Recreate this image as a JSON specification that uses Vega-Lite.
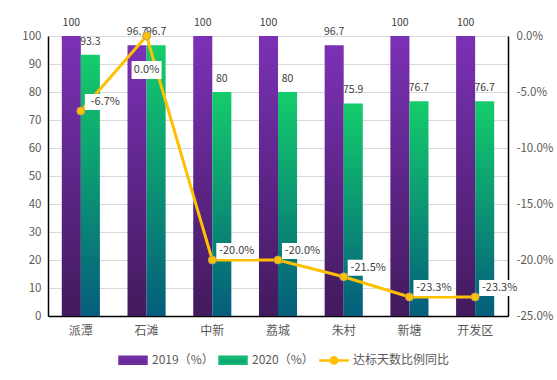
{
  "$schema": "https://vega.github.io/schema/vega-lite/v6.json",
  "width": 460,
  "height": 280,
  "autosize": {"type": "none"},
  "padding": {"left": 48, "top": 36, "right": 49, "bottom": 64},
  "background": "white",
  "config": {
    "font": "Noto Sans CJK SC",
    "view": {"stroke": null},
    "axis": {"labelFont": "Noto Sans CJK SC", "labelColor": "#595959", "labelFontSize": 11.5, "labelOverlap": false, "ticks": false, "tickSize": 0, "domainColor": "#000000", "title": null}
  },
  "datasets": {
    "bars": [
      {"cat": "派潭", "series": "2019（%）", "value": 100},
      {"cat": "派潭", "series": "2020（%）", "value": 93.3},
      {"cat": "石滩", "series": "2019（%）", "value": 96.7},
      {"cat": "石滩", "series": "2020（%）", "value": 96.7},
      {"cat": "中新", "series": "2019（%）", "value": 100},
      {"cat": "中新", "series": "2020（%）", "value": 80},
      {"cat": "荔城", "series": "2019（%）", "value": 100},
      {"cat": "荔城", "series": "2020（%）", "value": 80},
      {"cat": "朱村", "series": "2019（%）", "value": 96.7},
      {"cat": "朱村", "series": "2020（%）", "value": 75.9},
      {"cat": "新塘", "series": "2019（%）", "value": 100},
      {"cat": "新塘", "series": "2020（%）", "value": 76.7},
      {"cat": "开发区", "series": "2019（%）", "value": 100},
      {"cat": "开发区", "series": "2020（%）", "value": 76.7}
    ],
    "line": [
      {"cat": "派潭", "series": "达标天数比例同比", "yoy": -6.7, "label": "-6.7%"},
      {"cat": "石滩", "series": "达标天数比例同比", "yoy": 0.0, "label": "0.0%"},
      {"cat": "中新", "series": "达标天数比例同比", "yoy": -20.0, "label": "-20.0%"},
      {"cat": "荔城", "series": "达标天数比例同比", "yoy": -20.0, "label": "-20.0%"},
      {"cat": "朱村", "series": "达标天数比例同比", "yoy": -21.5, "label": "-21.5%"},
      {"cat": "新塘", "series": "达标天数比例同比", "yoy": -23.3, "label": "-23.3%"},
      {"cat": "开发区", "series": "达标天数比例同比", "yoy": -23.3, "label": "-23.3%"}
    ]
  },
  "encoding": {
    "x": {
      "field": "cat", "type": "nominal", "sort": null,
      "scale": {"paddingInner": 0.42, "paddingOuter": 0.21},
      "axis": {"labelAngle": 0, "labelPadding": 9, "labelFontSize": 12, "domainWidth": 1.5}
    }
  },
  "layer": [
    {
      "data": {"name": "bars"},
      "encoding": {
        "xOffset": {"field": "series", "type": "nominal", "sort": null, "scale": {"paddingInner": 0}},
        "y": {"field": "value", "type": "quantitative", "scale": {"domain": [0, 100], "nice": false},
          "axis": {"values": [0,10,20,30,40,50,60,70,80,90,100], "tickCount": 11, "grid": true, "gridColor": "#D9D9D9", "labelPadding": 7, "domainWidth": 1.5}}
      },
      "layer": [
        {
          "mark": {"type": "bar"},
          "encoding": {
            "color": {
              "condition": {"test": "datum.series === '2019（%）'", "value": {"gradient": "linear", "x1": 0, "y1": 0, "x2": 0, "y2": 1, "stops": [{"offset": 0, "color": "#7B31B6"}, {"offset": 1, "color": "#421A5C"}]}},
              "value": {"gradient": "linear", "x1": 0, "y1": 0, "x2": 0, "y2": 1, "stops": [{"offset": 0, "color": "#14CD6B"}, {"offset": 1, "color": "#045D7C"}]}
            }
          }
        },
        {
          "mark": {"type": "text", "dy": -10, "baseline": "alphabetic", "fontSize": 10.5, "color": "#404040"},
          "encoding": {
            "text": {"field": "value", "type": "quantitative"}
          }
        }
      ]
    },
    {
      "data": {"name": "line"},
      "encoding": {
        "y": {"field": "yoy", "type": "quantitative", "scale": {"domain": [-25, 0], "nice": false},
          "axis": {"orient": "right", "values": [0, -5, -10, -15, -20, -25], "grid": false, "labelPadding": 8, "domainWidth": 1.5,
            "labelExpr": "(datum.value < 0 ? '-' : '') + format(abs(datum.value), '.1f') + '%'"}}
      },
      "layer": [
        {
          "mark": {"type": "line", "strokeWidth": 3},
          "encoding": {
            "color": {
              "field": "series", "type": "nominal",
              "scale": {"domain": ["2019（%）", "2020（%）", "达标天数比例同比"], "range": ["#7030A0", "#12B874", "#FFC000"]},
              "legend": {
                "orient": "none", "legendX": 70, "legendY": 309, "direction": "horizontal", "title": null,
                "padding": 0, "labelFont": "Noto Sans CJK SC", "labelFontSize": 12, "labelColor": "#595959",
                "labelOffset": 4, "columnPadding": 0, "symbolSize": 729,
                "encode": {
                  "symbols": {
                    "update": {
                      "shape": {"signal": "datum.value === '达标天数比例同比' ? 'M-1.1,0L-0.22,0M0.22,0L1.1,0M-0.23,0A0.23,0.23,0,1,1,0.23,0A0.23,0.23,0,1,1,-0.23,0' : 'M-1,-0.26H1V0.26H-1Z'"},
                      "fill": [
                        {"test": "datum.value === '2019（%）'", "value": {"gradient": "linear", "x1": 0, "y1": 0, "x2": 0, "y2": 1, "stops": [{"offset": 0, "color": "#7B31B6"}, {"offset": 1, "color": "#5A2385"}]}},
                        {"test": "datum.value === '2020（%）'", "value": {"gradient": "linear", "x1": 0, "y1": 0, "x2": 0, "y2": 1, "stops": [{"offset": 0, "color": "#14CD6B"}, {"offset": 1, "color": "#0A8A74"}]}},
                        {"value": "#FFC000"}
                      ],
                      "stroke": {"signal": "datum.value === '达标天数比例同比' ? '#FFC000' : 'transparent'"},
                      "strokeWidth": {"value": 2.5},
                      "opacity": {"value": 1},
                      "fillOpacity": {"value": 1}
                    }
                  }
                }
              }
            }
          }
        },
        {
          "mark": {"type": "point", "filled": true, "size": 64, "color": "#FFC000", "stroke": "#B8A060", "strokeWidth": 1, "opacity": 1}
        },
        {
          "transform": [{"filter": "datum.cat !== '石滩'"}],
          "mark": {"type": "point", "filled": true, "size": 100, "color": "white", "opacity": 1, "shape": "M0.8,-3.4H9V-0.2H0.8Z"}
        },
        {
          "transform": [{"filter": "datum.cat === '石滩'"}],
          "mark": {"type": "point", "filled": true, "size": 100, "color": "white", "opacity": 1, "shape": "M-3,5H3V8.6H-3Z"}
        },
        {
          "transform": [{"filter": "datum.cat !== '石滩'"}],
          "mark": {"type": "text", "dx": 24.5, "dy": -9, "baseline": "middle", "align": "center", "fontSize": 11, "color": "#404040"},
          "encoding": {"text": {"field": "label", "type": "nominal"}}
        },
        {
          "transform": [{"filter": "datum.cat === '石滩'"}],
          "mark": {"type": "text", "dx": 0, "dy": 34, "baseline": "middle", "align": "center", "fontSize": 11, "color": "#404040"},
          "encoding": {"text": {"field": "label", "type": "nominal"}}
        }
      ]
    }
  ],
  "resolve": {"scale": {"y": "independent"}}
}
